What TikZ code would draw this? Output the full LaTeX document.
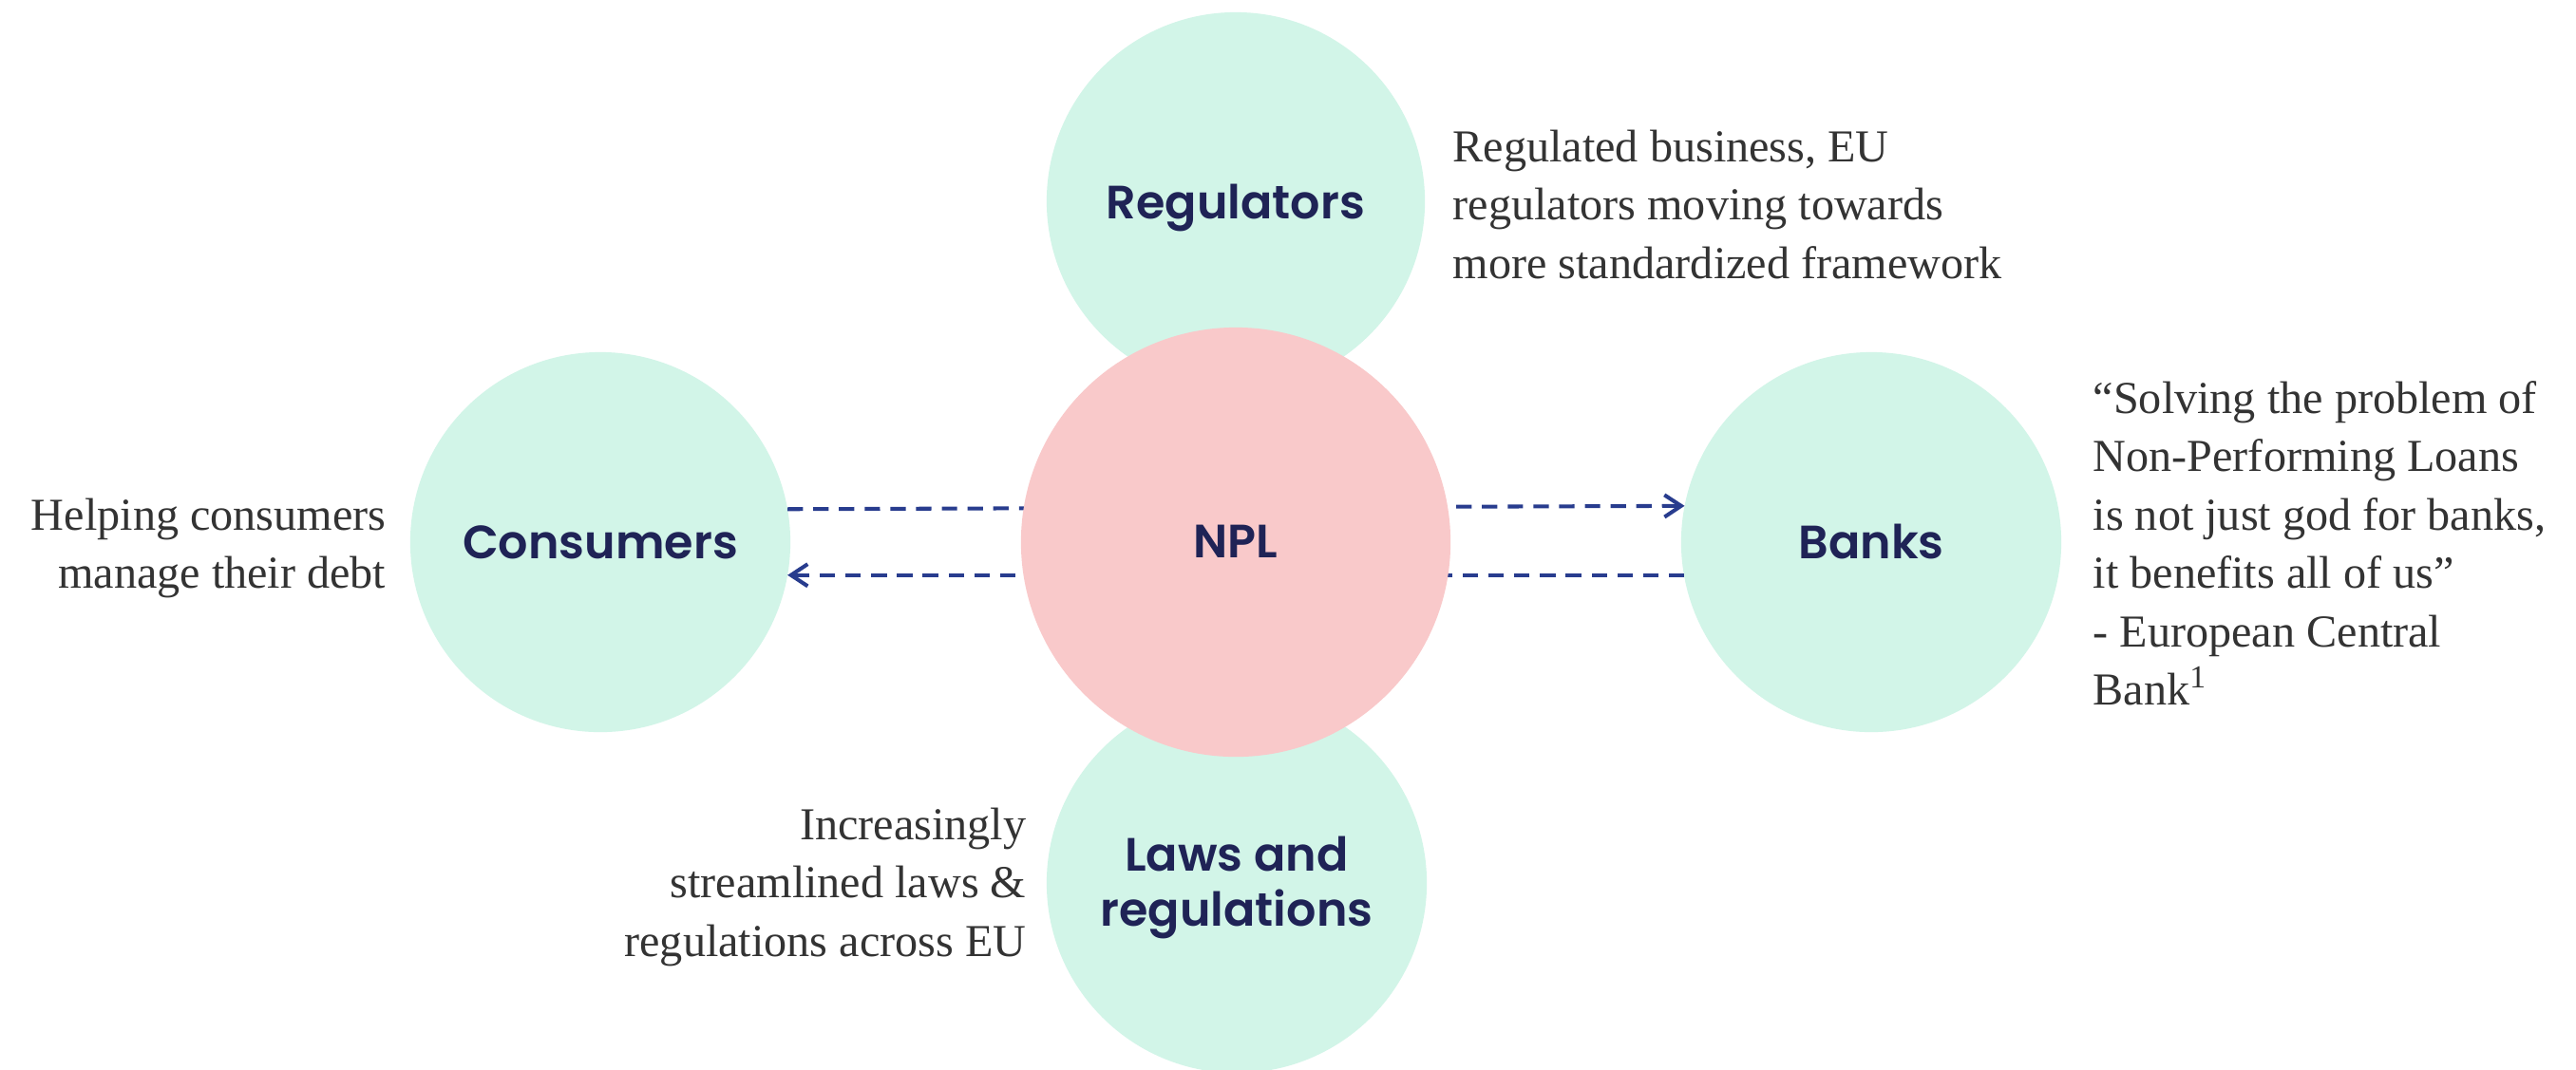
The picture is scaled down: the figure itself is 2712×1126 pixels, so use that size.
\documentclass[tikz,border=0pt]{standalone}
\usepackage{fontspec}
\usetikzlibrary{arrows.meta,calc}
\setmainfont{Liberation Serif}
\newfontfamily\labfont{Poppins SemiBold}
\definecolor{mint}{HTML}{D2F5E8}
\definecolor{blush}{HTML}{F9C9CA}
\definecolor{navy}{HTML}{1F2356}
\definecolor{linkblue}{HTML}{283C8E}
\definecolor{ink}{HTML}{333333}
\renewcommand\arraystretch{1}
\begin{document}
\begin{tikzpicture}[x=0.01cm,y=-0.01cm,
  bubble/.style={circle,fill=mint,minimum size=4cm,inner sep=0pt,outer sep=0pt},
  lab/.style={font=\labfont\fontsize{14}{16.5}\selectfont,text=navy,inner sep=0pt,anchor=base},
  note/.style={font=\fontsize{13.7}{17.5}\selectfont,text=ink,inner sep=0pt},
  link/.style={draw=linkblue,line width=1.15pt,dash pattern=on 4.6pt off 3.1pt,
    -{Straight Barb[length=5pt,width=6.6pt]}}]
\useasboundingbox (0,0) rectangle (2712,1126);
\fill[white] (0,0) rectangle (2712,1126);

% outer bubbles
\node[bubble,minimum size=3.98cm] (reg) at (1301,212) {};
\node[bubble] (laws) at (1302,930) {};
\node[bubble] (cons) at (632,571) {};
\node[bubble] (banks) at (1970,571) {};

% flows between consumers and banks, passing behind the centre
\draw[link] (cons.10.39) -- (banks.169.61);
\draw[link] (banks.190.39) -- (cons.-10.39);

% centre bubble
\node[bubble,fill=blush,minimum size=4.52cm] (npl) at (1301,571) {};

% bubble labels
\node[lab] (tReg) at ($(reg.center)+(0,18)$) {Regulators};
\node[lab] (tCons) at ($(cons.center)+(0,17)$) {Consumers};
\node[lab] (tBanks) at ($(banks.center)+(0,17)$) {Banks};
\node[lab] (tNpl) at ($(npl.center)+(0,16)$) {NPL};
\node[lab] (tLaws) at ($(laws.center)+(0,-13)$)
  {\begin{tabular}[t]{@{}c@{}}Laws and\\regulations\end{tabular}};

% side notes
\node[note,anchor=base west] (nReg) at (1529,170)
  {\begin{tabular}[t]{@{}l@{}}Regulated business, EU\\regulators moving towards\\more standardized framework\end{tabular}};
\node[note,anchor=base east] (nCons) at (407,558)
  {\begin{tabular}[t]{@{}r@{}}Helping consumers\\manage their debt\end{tabular}};
\node[note,anchor=base east] (nLaws) at (1081,884)
  {\begin{tabular}[t]{@{}r@{}}Increasingly\\streamlined laws \&\\regulations across EU\end{tabular}};
\node[note,anchor=base west] (nBanks) at (2203,435)
  {\begin{tabular}[t]{@{}l@{}}“Solving the problem of\\Non-Performing Loans\\is not just god for banks,\\it benefits all of us”\\- European Central\\Bank\textsuperscript{1}\end{tabular}};
\end{tikzpicture}
\end{document}
